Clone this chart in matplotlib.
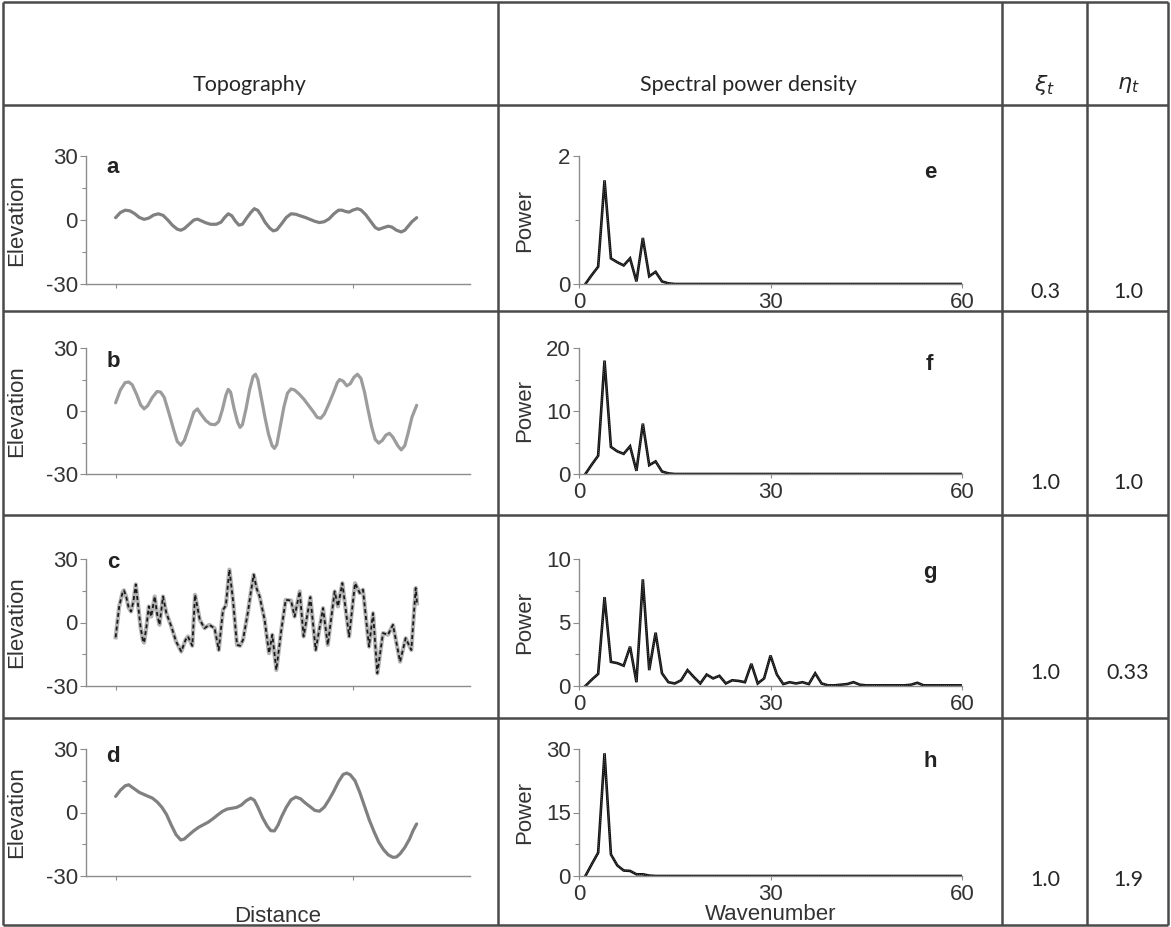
import matplotlib
matplotlib.use("Agg")
import matplotlib.pyplot as plt
from matplotlib.ticker import MultipleLocator, FixedLocator, NullFormatter

# ---------------------------------------------------------------- data
# Topography profiles: distance index and elevation
dist_a = [0, 4, 8, 12, 16, 20, 24, 28, 32, 36, 40, 44, 48, 52, 55, 58, 62, 66, 69, 72,
          76, 80, 85, 89, 92, 95, 98, 101, 104, 107, 110, 114, 117, 120, 123, 126, 130,
          133, 136, 140, 144, 148, 152, 156, 160, 164, 168, 172, 176, 180, 184, 188, 191,
          194, 197, 200, 204, 207, 211, 215, 219, 222, 226, 230, 233, 237, 241, 244, 247,
          250, 254]
elev_a = [1.1, 3.5, 4.6, 4.3, 3.0, 1.2, 0.3, 0.9, 2.3, 2.9, 2.2, 0.0, -2.5, -4.3, -4.8,
          -4.0, -2.0, 0.0, 0.4, -0.3, -1.3, -2.0, -2.0, -1.0, 1.2, 2.9, 2.0, -0.5, -2.4,
          -2.0, 0.5, 3.5, 5.3, 4.5, 2.0, -1.0, -3.8, -5.1, -4.6, -1.8, 1.2, 2.9, 2.7, 1.9,
          1.2, 0.3, -0.6, -1.2, -0.8, 0.5, 2.8, 4.6, 4.6, 4.0, 3.7, 4.6, 5.3, 4.7, 2.5,
          -0.5, -3.5, -4.4, -3.6, -2.9, -3.3, -4.8, -5.6, -4.8, -2.8, -0.8, 1.1]

dist_b = [0, 4, 8, 11, 14, 18, 21, 24, 27, 31, 35, 38, 41, 45, 49, 52, 55, 58, 62, 66,
          69, 72, 76, 80, 84, 87, 90, 93, 95, 97, 100, 103, 105, 107, 110, 113, 116, 118,
          120, 123, 126, 129, 132, 134, 136, 139, 142, 145, 148, 151, 155, 159, 163, 167,
          170, 173, 176, 180, 184, 187, 189, 192, 195, 198, 201, 204, 207, 210, 213, 216,
          219, 222, 225, 228, 231, 234, 238, 241, 244, 247, 250, 254]
elev_b = [3.9, 10.0, 13.5, 13.8, 12.5, 7.5, 3.0, 1.0, 2.5, 6.5, 9.3, 9.0, 6.5, -1.0,
          -9.0, -14.5, -16.3, -14.0, -7.5, -0.5, 1.0, -1.5, -4.5, -6.3, -6.5, -5.0, 0.5,
          7.5, 10.3, 9.0, 1.0, -5.5, -7.8, -6.5, 1.0, 10.0, 16.5, 17.5, 15.0, 6.0, -3.0,
          -11.0, -16.5, -17.8, -16.0, -7.0, 2.0, 8.5, 10.5, 10.0, 8.0, 5.5, 2.5, -0.5,
          -3.0, -3.5, -1.5, 3.5, 9.0, 13.5, 15.0, 14.2, 12.0, 13.0, 16.0, 17.5, 15.5, 9.0,
          0.5, -7.5, -13.5, -15.3, -14.0, -11.5, -10.6, -12.5, -16.5, -18.5, -16.5, -10.0,
          -3.0, 2.7]

dist_c = [0, 3, 6, 7, 9, 11, 13, 15, 17, 19, 21, 23, 24, 26, 28, 30, 33, 35, 37, 40,
          42.8, 47, 51, 55.4, 59, 61, 64.7, 67, 71, 75, 79, 83.5, 87, 90.6, 93, 96, 99,
          102.4, 105, 107.5, 111.7, 114, 116.5, 119, 121.5, 125.7, 129.4, 132.2, 135.6,
          139.8, 143.5, 148, 151, 155.3, 158.6, 164.3, 168.8, 175, 179, 184.8, 187.6,
          191.3, 197, 202, 206, 208.7, 213.8, 217.2, 220.8, 225.6, 229.8, 234, 240, 244.7,
          249.5, 253.2, 254.3]
elev_c = [-7.0, 7.6, 14.5, 15.2, 12.0, 7.0, 5.2, 10.0, 18.0, 8.0, -2.0, -8.5, -9.5, -2.0,
          7.6, 2.8, 12.3, 4.0, -1.1, 12.3, 4.4, -1.9, -9.0, -13.7, -8.2, -6.6, -11.0, 13.1,
          1.3, -2.7, -1.1, -2.7, -13.0, 6.0, 8.0, 25.0, 10.7, -10.6, -11.0, -8.2, 5.2,
          14.0, 22.6, 16.0, 12.3, 1.3, -14.5, -5.8, -22.4, -3.5, 10.7, 10.4, 2.8, 14.7,
          -6.6, 12.0, -13.0, 6.8, -10.6, 14.7, 7.6, 18.6, -6.6, 18.6, 13.9, 15.5, -11.4,
          4.4, -24.0, -5.0, -5.8, -1.1, -18.5, -7.4, -13.0, 16.3, 9.0]

dist_d = [0, 4, 8, 11, 15, 20, 26, 31, 35, 39, 43, 47, 51, 55, 58, 62, 66, 70, 74, 78,
          82, 86, 90, 94, 98, 102, 106, 110, 114, 117, 120, 124, 128, 131, 134, 137, 140,
          144, 148, 152, 156, 160, 164, 168, 172, 176, 180, 184, 188, 192, 195, 198, 202,
          206, 210, 214, 218, 222, 226, 230, 234, 237, 240, 244, 248, 251, 254]
elev_d = [7.6, 10.5, 12.6, 13.1, 11.5, 9.5, 8.0, 6.8, 5.0, 2.5, -1.0, -6.0, -10.5, -13.0,
          -12.5, -10.5, -8.6, -7.0, -5.8, -4.6, -3.0, -1.2, 0.5, 1.6, 2.0, 2.4, 3.5, 5.5,
          6.8, 5.8, 2.5, -2.5, -6.5, -8.6, -8.7, -6.0, -2.0, 2.5, 6.0, 7.3, 6.5, 4.5, 2.8,
          1.0, 0.6, 2.5, 6.0, 10.0, 14.5, 18.0, 18.6, 17.8, 15.0, 9.5, 3.0, -3.5, -9.0,
          -14.0, -17.5, -20.0, -21.2, -21.0, -19.5, -16.5, -12.5, -8.5, -5.4]

# Spectral power density against wavenumber 1..60
wavenumber = list(range(1, 61))
power_e = [0, 0.14, 0.27, 1.62, 0.40, 0.34, 0.29, 0.40, 0.04, 0.72, 0.12, 0.19, 0.04,
           0.01] + [0] * 46
power_f = [0, 1.5, 2.9, 18.0, 4.3, 3.6, 3.2, 4.4, 0.5, 8.0, 1.4, 2.0, 0.4, 0.1] + [0] * 46
power_g = [0.0, 0.5, 0.95, 7.0, 1.9, 1.8, 1.6, 3.1, 0.3, 8.4, 1.25, 4.2, 1.0, 0.3, 0.2,
           0.45, 1.25, 0.7, 0.2, 0.9, 0.6, 0.8, 0.2, 0.45, 0.4, 0.3, 1.75, 0.2, 0.6, 2.4,
           0.9, 0.15, 0.3, 0.2, 0.3, 0.15, 1.0, 0.2, 0.05, 0.05, 0.1, 0.15, 0.3, 0.1, 0.05,
           0.05, 0.05, 0.05, 0.05, 0.05, 0.05, 0.1, 0.25, 0.05, 0.05, 0.05, 0.05, 0.05,
           0.05, 0.05]
power_h = [0, 2.8, 5.5, 29.0, 5.1, 2.5, 1.3, 1.2, 0.4, 0.4, 0.1] + [0] * 49

# Table entries
topo_letters = ["a", "b", "c", "d"]
spec_letters = ["e", "f", "g", "h"]
xi_values = ["0.3", "1.0", "1.0", "1.0"]
eta_values = ["1.0", "1.0", "0.33", "1.9"]
power_ticks = [(0, 2, 1), (0, 20, 5), (0, 10, 2.5), (0, 30, 7.5)]  # (min, max, minor step)

# ---------------------------------------------------------------- layout
plt.rcParams["axes.unicode_minus"] = False
W, H = 1171, 927
fig = plt.figure(figsize=(W / 100, H / 100), dpi=100)
fig.patch.set_facecolor("white")


def px_box(left, top, right, bottom):
    return [left / W, 1 - bottom / H, (right - left) / W, (bottom - top) / H]


# table frame drawn in pixel space on a full-figure axes
frame = fig.add_axes([0, 0, 1, 1])
frame.set_xlim(0, W)
frame.set_ylim(H, 0)
frame.axis("off")
line_kw = dict(color="#4a4a4a", lw=1.8, solid_capstyle="butt")
col_x = [3, 498, 1002, 1087, 1168]
row_y = [2, 105, 311, 515, 718, 925]
for x in col_x:
    frame.plot([x, x], [row_y[0], row_y[-1]], **line_kw)
for y in row_y:
    frame.plot([col_x[0], col_x[-1]], [y, y], **line_kw)

hdr_font = dict(family="Lato", size=15.5, color="#262626", ha="center", va="center")
frame.text(250, 85, "Topography", **hdr_font)
frame.text(748, 85, "Spectral power density", **hdr_font)
frame.text(1045, 85, r"$\xi_t$", fontsize=16, color="#262626", ha="center", va="center")
frame.text(1128, 85, r"$\eta_t$", fontsize=16, color="#262626", ha="center", va="center")

value_y = [292, 483, 673, 880]
for yv, xi, eta in zip(value_y, xi_values, eta_values):
    frame.text(1045, yv, xi, **hdr_font)
    frame.text(1128, yv, eta, **hdr_font)

plt.rcParams["font.family"] = ["Liberation Sans", "DejaVu Sans"]
spine_col = "#8c8c8c"
tick_col = "#333333"

plot_rows = [(156, 284), (348, 474), (559, 686), (749, 876)]
topo_data = [(dist_a, elev_a), (dist_b, elev_b), (dist_c, elev_c), (dist_d, elev_d)]
spec_data = [power_e, power_f, power_g, power_h]
letter_pos_topo = [0.91, 0.89, 0.97, 0.94]
letter_pos_spec = [0.87, 0.87, 0.89, 0.90]


def style_axes(ax):
    for s in ("top", "right"):
        ax.spines[s].set_visible(False)
    for s in ("left", "bottom"):
        ax.spines[s].set_color(spine_col)
        ax.spines[s].set_linewidth(1.0)
    ax.tick_params(which="both", colors=spine_col, labelcolor=tick_col, labelsize=16,
                   direction="out")
    ax.tick_params(which="major", length=4, width=0.8)
    ax.tick_params(which="minor", length=3, width=0.8)
    ax.patch.set_alpha(0)


for i, (top, bottom) in enumerate(plot_rows):
    # topography panel
    ax = fig.add_axes(px_box(86, top, 470, bottom))
    style_axes(ax)
    dist, elev = topo_data[i]
    if i == 2:
        ax.plot(dist, elev, color="#b4b4b4", lw=3.0, solid_joinstyle="round")
        ax.plot(dist, elev, color="#1a1a1a", lw=1.3, dashes=(2.2, 1.6))
    else:
        col = "#9c9c9c" if i == 1 else "#808080"
        ax.plot(dist, elev, color=col, lw=2.3, solid_joinstyle="round",
                solid_capstyle="round")
    ax.set_xlim(-25, 299)
    ax.set_ylim(-30, 30)
    ax.yaxis.set_major_locator(FixedLocator([-30, 0, 30]))
    ax.yaxis.set_minor_locator(FixedLocator([-15, 15]))
    ax.xaxis.set_major_locator(FixedLocator([0, 200]))
    ax.xaxis.set_major_formatter(NullFormatter())
    ax.tick_params(axis="x", length=3)
    ax.tick_params(axis="y", pad=2)
    ax.set_ylabel("Elevation", fontsize=16, color=tick_col)
    ax.yaxis.set_label_coords(-59 / 384, 0.5)
    ax.text(0.07, letter_pos_topo[i], topo_letters[i], transform=ax.transAxes,
            fontsize=16, fontweight="bold", color="#222222", ha="center", va="center")

    # spectrum panel
    sx = fig.add_axes(px_box(579, top, 962, bottom))
    style_axes(sx)
    p = spec_data[i]
    sx.plot(wavenumber, p, color="#111111", lw=1.9, solid_joinstyle="miter")
    sx.plot(wavenumber, p, color="#6a6a6a", lw=0.5, dashes=(1.5, 1.5))
    lo, hi, minor = power_ticks[i]
    sx.set_xlim(0, 60)
    sx.set_ylim(lo, hi)
    sx.yaxis.set_major_locator(FixedLocator([lo, (lo + hi) / 2, hi] if i > 0 else [lo, hi]))
    sx.yaxis.set_minor_locator(MultipleLocator(minor))
    sx.xaxis.set_major_locator(FixedLocator([0, 30, 60]))
    sx.tick_params(axis="x", length=3, pad=3)
    sx.tick_params(axis="y", pad=2)
    sx.set_ylabel("Power", fontsize=16, color=tick_col)
    sx.yaxis.set_label_coords(-44 / 383, 0.5)
    sx.text(0.916, letter_pos_spec[i], spec_letters[i], transform=sx.transAxes,
            fontsize=16, fontweight="bold", color="#222222", ha="center", va="center")

    if i == 3:
        ax.set_xlabel("Distance", fontsize=16, color=tick_col)
        ax.xaxis.set_label_coords(0.5, -(917 - 876) / 127)
        ax.xaxis.label.set_verticalalignment("center")
        sx.set_xlabel("Wavenumber", fontsize=16, color=tick_col)
        sx.xaxis.set_label_coords(0.5, -(914 - 876) / 127)
        sx.xaxis.label.set_verticalalignment("center")

fig.savefig("out.png", dpi=100, facecolor="white")
